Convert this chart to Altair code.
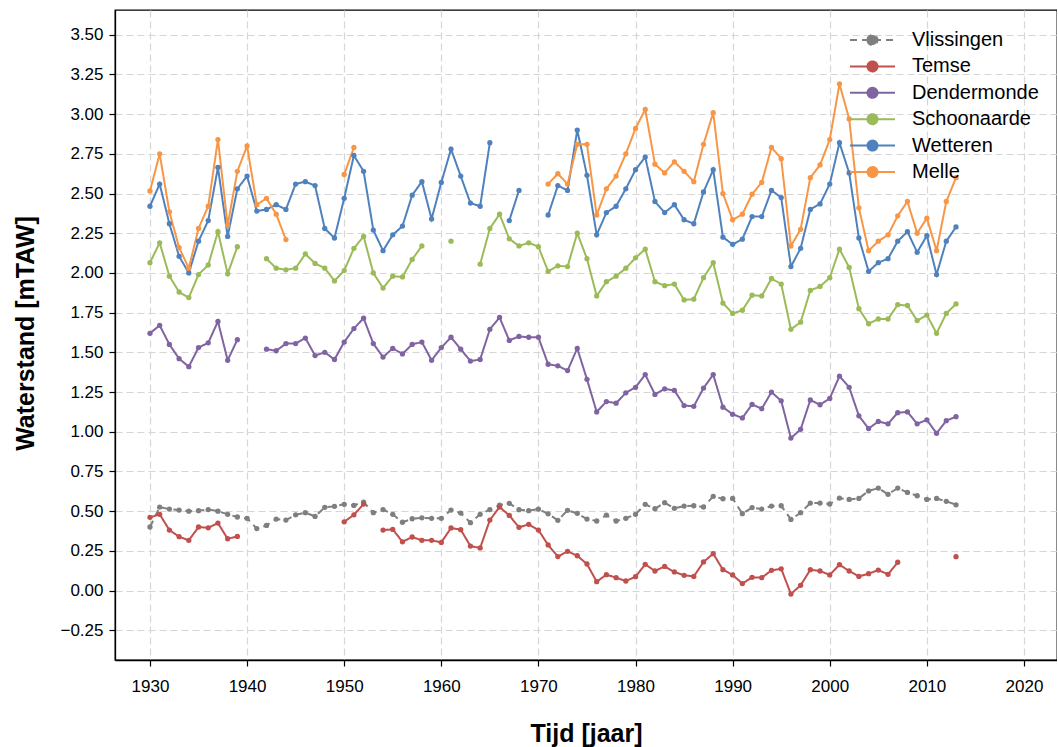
import altair as alt
import pandas as pd

years = list(range(1930, 2014))
stations = ["Vlissingen", "Temse", "Dendermonde", "Schoonaarde", "Wetteren", "Melle"]
colors = ["#7f7f7f", "#c0504d", "#8064a2", "#9bbb59", "#4f81bd", "#f79646"]
dashes = [[7, 5], [1, 0], [1, 0], [1, 0], [1, 0], [1, 0]]

N = None

vlissingen = [
    0.40, 0.525, 0.513, 0.507, 0.50, 0.503, 0.51, 0.50, 0.48, 0.463,
    0.455, 0.39, 0.41, 0.45, 0.444, 0.477, 0.49, 0.467, 0.524, 0.53,
    0.543, 0.536, 0.557, 0.49, 0.51, 0.48, 0.43, 0.452, 0.458, 0.455,
    0.455, 0.507, 0.488, 0.427, 0.48, 0.51, 0.538, 0.549, 0.509, 0.503,
    0.513, 0.483, 0.442, 0.505, 0.486, 0.45, 0.438, 0.475, 0.438, 0.455,
    0.48, 0.543, 0.515, 0.553, 0.518, 0.532, 0.534, 0.526, 0.593, 0.578,
    0.58, 0.484, 0.522, 0.513, 0.532, 0.534, 0.448, 0.49, 0.551, 0.551,
    0.545, 0.582, 0.574, 0.58, 0.627, 0.645, 0.606, 0.645, 0.618, 0.597,
    0.574, 0.58, 0.562, 0.54,
]

temse = [
    0.461, 0.48, 0.381, 0.339, 0.316, 0.40, 0.395, 0.425, 0.326, 0.341,
    N, N, N, N, N, N, N, N, N, N,
    0.433, 0.477, 0.545, N, 0.381, 0.385, 0.307, 0.337, 0.316, 0.316,
    0.303, 0.394, 0.383, 0.28, 0.268, 0.444, 0.526, 0.473, 0.398, 0.417,
    0.381, 0.287, 0.214, 0.247, 0.219, 0.167, 0.056, 0.10, 0.081, 0.06,
    0.087, 0.165, 0.123, 0.152, 0.117, 0.096, 0.089, 0.18, 0.232, 0.131,
    0.098, 0.044, 0.083, 0.081, 0.127, 0.137, -0.022, 0.033, 0.131, 0.123,
    0.098, 0.163, 0.123, 0.089, 0.106, 0.129, 0.102, 0.178, N, N,
    N, N, N, 0.213,
]

dendermonde = [
    1.62, 1.67, 1.55, 1.46, 1.41, 1.53, 1.56, 1.695, 1.45, 1.58,
    N, N, 1.52, 1.51, 1.555, 1.555, 1.59, 1.48, 1.50, 1.455,
    1.565, 1.65, 1.715, 1.555, 1.47, 1.525, 1.49, 1.55, 1.565, 1.45,
    1.53, 1.595, 1.52, 1.445, 1.455, 1.645, 1.72, 1.575, 1.60, 1.595,
    1.595, 1.425, 1.415, 1.385, 1.525, 1.33, 1.125, 1.19, 1.18, 1.245,
    1.28, 1.36, 1.235, 1.27, 1.26, 1.165, 1.16, 1.275, 1.36, 1.155,
    1.11, 1.087, 1.172, 1.145, 1.25, 1.195, 0.96, 1.015, 1.20, 1.17,
    1.21, 1.35, 1.28, 1.10, 1.02, 1.065, 1.05, 1.12, 1.125, 1.05,
    1.075, 0.99, 1.07, 1.095,
]

schoonaarde = [
    2.065, 2.19, 1.98, 1.88, 1.845, 1.99, 2.05, 2.26, 1.995, 2.165,
    N, N, 2.09, 2.03, 2.02, 2.03, 2.12, 2.06, 2.03, 1.95,
    2.015, 2.155, 2.23, 2.00, 1.905, 1.98, 1.975, 2.085, 2.17, N,
    N, 2.20, N, N, 2.055, 2.28, 2.37, 2.215, 2.17, 2.19,
    2.165, 2.01, 2.045, 2.04, 2.25, 2.09, 1.855, 1.945, 1.98, 2.03,
    2.095, 2.15, 1.945, 1.92, 1.93, 1.83, 1.835, 1.97, 2.065, 1.81,
    1.745, 1.765, 1.86, 1.855, 1.965, 1.93, 1.645, 1.69, 1.89, 1.915,
    1.97, 2.15, 2.035, 1.775, 1.68, 1.71, 1.71, 1.80, 1.795, 1.70,
    1.735, 1.62, 1.745, 1.805,
]

wetteren = [
    2.42, 2.56, 2.31, 2.105, 2.00, 2.20, 2.33, 2.665, 2.23, 2.53,
    2.61, 2.39, 2.40, 2.43, 2.40, 2.56, 2.575, 2.55, 2.28, 2.22,
    2.47, 2.74, 2.64, 2.27, 2.14, 2.24, 2.295, 2.49, 2.575, 2.34,
    2.57, 2.78, 2.61, 2.44, 2.42, 2.82, N, 2.33, 2.52, N,
    N, 2.365, 2.55, 2.52, 2.90, 2.615, 2.24, 2.38, 2.42, 2.53,
    2.65, 2.73, 2.45, 2.38, 2.43, 2.335, 2.31, 2.51, 2.65, 2.225,
    2.18, 2.213, 2.355, 2.355, 2.52, 2.475, 2.04, 2.155, 2.40, 2.435,
    2.56, 2.82, 2.63, 2.22, 2.01, 2.065, 2.09, 2.20, 2.26, 2.13,
    2.235, 1.99, 2.20, 2.29,
]

melle = [
    2.516, 2.75, 2.385, 2.16, 2.03, 2.28, 2.42, 2.84, 2.30, 2.64,
    2.80, 2.43, 2.47, 2.37, 2.21, N, N, N, N, N,
    2.62, 2.79, N, N, N, N, N, N, N, N,
    N, N, N, N, N, N, N, N, N, N,
    N, 2.56, 2.625, 2.56, 2.81, 2.81, 2.365, 2.53, 2.61, 2.75,
    2.91, 3.03, 2.685, 2.63, 2.70, 2.64, 2.575, 2.81, 3.01, 2.50,
    2.335, 2.37, 2.496, 2.57, 2.79, 2.72, 2.17, 2.275, 2.60, 2.68,
    2.84, 3.19, 2.97, 2.41, 2.14, 2.20, 2.24, 2.36, 2.45, 2.25,
    2.345, 2.14, 2.45, 2.60,
]

x_ticks = [1930, 1940, 1950, 1960, 1970, 1980, 1990, 2000, 2010, 2020]
y_ticks = [-0.25, 0.0, 0.25, 0.5, 0.75, 1.0, 1.25, 1.5, 1.75, 2.0, 2.25, 2.5, 2.75, 3.0, 3.25, 3.5]

series = dict(zip(stations, [vlissingen, temse, dendermonde, schoonaarde, wetteren, melle]))
rows = []
for name in stations:
    seg = 0
    for yr, v in zip(years, series[name]):
        if v is None:
            seg += 1
            continue
        rows.append({"station": name, "jaar": yr, "waarde": v, "segment": f"{name}-{seg}"})
df = pd.DataFrame(rows)

FONT = "Liberation Sans"
# legend glyph: a short line with a dot in the middle (path units scaled by sqrt(size)/2 = 10 px)
SYMBOL = "M-2.25,0H2.25M-0.5,0A0.5,0.5,0,1,0,0.5,0A0.5,0.5,0,1,0,-0.5,0Z"

legend = alt.Legend(
    title=None, orient="none", legendX=746.5, legendY=19,
    symbolType=SYMBOL, symbolSize=400, symbolStrokeWidth=2,
    labelFontSize=20, labelFont=FONT, labelColor="black",
    labelOffset=28.5, rowPadding=5.4, padding=0,
)

chart = alt.Chart(df).mark_line(
    strokeWidth=2,
    point=alt.OverlayMarkDef(filled=True, size=28, strokeWidth=0),
).encode(
    x=alt.X("jaar:Q",
            scale=alt.Scale(domain=[1926.4, 2023.4], nice=False, zero=False),
            axis=alt.Axis(values=x_ticks, format="d", title="Tijd [jaar]",
                          titleX=471, titleY=73, titleBaseline="middle", titleAlign="center",
                          labelPadding=12)),
    y=alt.Y("waarde:Q",
            scale=alt.Scale(domain=[-0.4375, 3.656], nice=False, zero=False),
            axis=alt.Axis(values=y_ticks, format=".2f", title="Waterstand [mTAW]",
                          titleX=-90, titleY=323, titleAngle=270, titleBaseline="middle",
                          titleAlign="center", labelPadding=6)),
    color=alt.Color("station:N", scale=alt.Scale(domain=stations, range=colors), legend=legend),
    strokeDash=alt.StrokeDash("station:N", scale=alt.Scale(domain=stations, range=dashes), legend=legend),
    detail="segment:N",
    order="jaar:Q",
).properties(
    width=942, height=650,
    background="white",
    autosize=alt.AutoSizeParams(type="none"),
    padding={"left": 115, "top": 10, "right": 0, "bottom": 87},
).configure_view(
    stroke="black", strokeWidth=1.3,
).configure_axis(
    labelFont=FONT, labelFontSize=17, labelColor="black",
    titleFont=FONT, titleFontSize=25, titleFontWeight="bold", titleColor="black",
    tickColor="black", tickSize=6, tickWidth=1.2,
    domainColor="black", domainWidth=1.3,
    grid=True, gridColor="#d6d6d6", gridDash=[7, 4], gridWidth=1.2,
)

chart.save("out.html", embed_options={"renderer": "svg", "actions": False})
